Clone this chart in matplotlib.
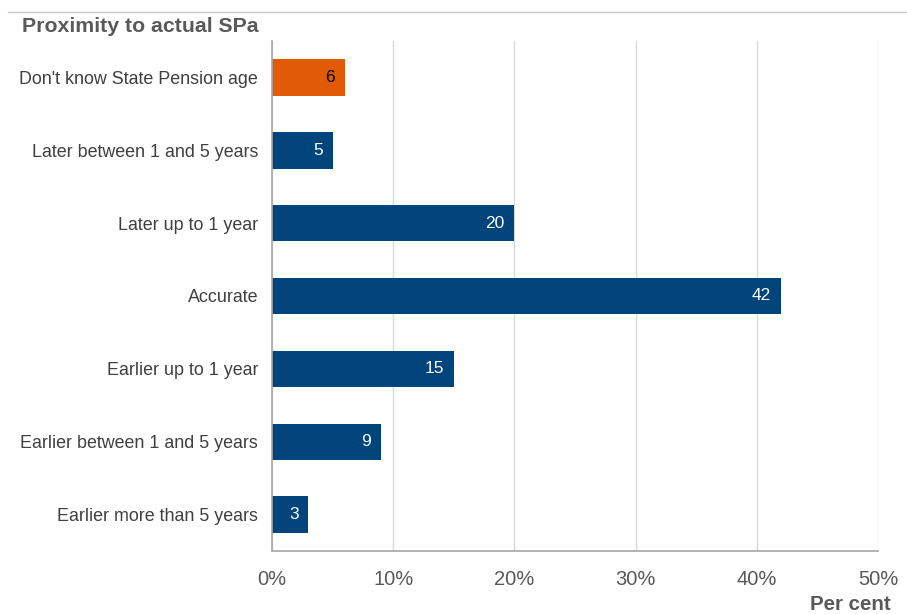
import matplotlib.pyplot as plt
from matplotlib.lines import Line2D

# survey shares, bottom to top as drawn
categories = [
    "Earlier more than 5 years",
    "Earlier between 1 and 5 years",
    "Earlier up to 1 year",
    "Accurate",
    "Later up to 1 year",
    "Later between 1 and 5 years",
    "Don't know State Pension age",
]
values = [3, 9, 15, 42, 20, 5, 6]
ticks = [0, 10, 20, 30, 40, 50]

navy = "#00447C"
orange = "#E15A06"
grey_text = "#595959"

plt.rcParams["font.family"] = ["Liberation Sans", "DejaVu Sans"]

fig = plt.figure(figsize=(9.07, 6.14), dpi=100)
ax = fig.add_axes([272 / 907, 1 - 551 / 614, 606 / 907, 510 / 614])

colors = [orange if c.startswith("Don't") else navy for c in categories]
y = range(len(categories))
ax.barh(y, values, height=0.5, color=colors, zorder=3)

for i, v in enumerate(values):
    txt_col = "black" if colors[i] == orange else "white"
    ax.annotate(str(v), (v, i), xytext=(-7, 0), textcoords="offset points",
                ha="right", va="center", color=txt_col, fontsize=12.5, zorder=4)

ax.set_xlim(0, 50)
ax.set_ylim(-0.5, len(categories) - 0.5)
ax.set_xticks(ticks)
ax.set_xticklabels([f"{t}%" for t in ticks], fontsize=14.5, color=grey_text)
ax.set_yticks(list(y))
ax.set_yticklabels(categories, fontsize=12.9, color="#404040")
ax.tick_params(axis="both", length=0)
ax.tick_params(axis="x", pad=14)
ax.tick_params(axis="y", pad=10)

ax.grid(axis="x", color="#d9d9d9", linewidth=1, zorder=0)
for s in ["top", "right"]:
    ax.spines[s].set_visible(False)
for s in ["left", "bottom"]:
    ax.spines[s].set_color("#a6a6a6")
    ax.spines[s].set_linewidth(1.2)
    ax.spines[s].set_zorder(5)

fig.text(22 / 907, 1 - 27 / 614, "Proximity to actual SPa", fontsize=15.3,
         fontweight="bold", color=grey_text, va="center", ha="left")
fig.text(891 / 907, 1 - 605 / 614, "Per cent", fontsize=14.8,
         fontweight="bold", color=grey_text, va="center", ha="right")
fig.add_artist(Line2D([8 / 907, 1], [1 - 12 / 614, 1 - 12 / 614],
                      transform=fig.transFigure, color="#c8c8c8", linewidth=1))

fig.savefig("out.png", dpi=100)
